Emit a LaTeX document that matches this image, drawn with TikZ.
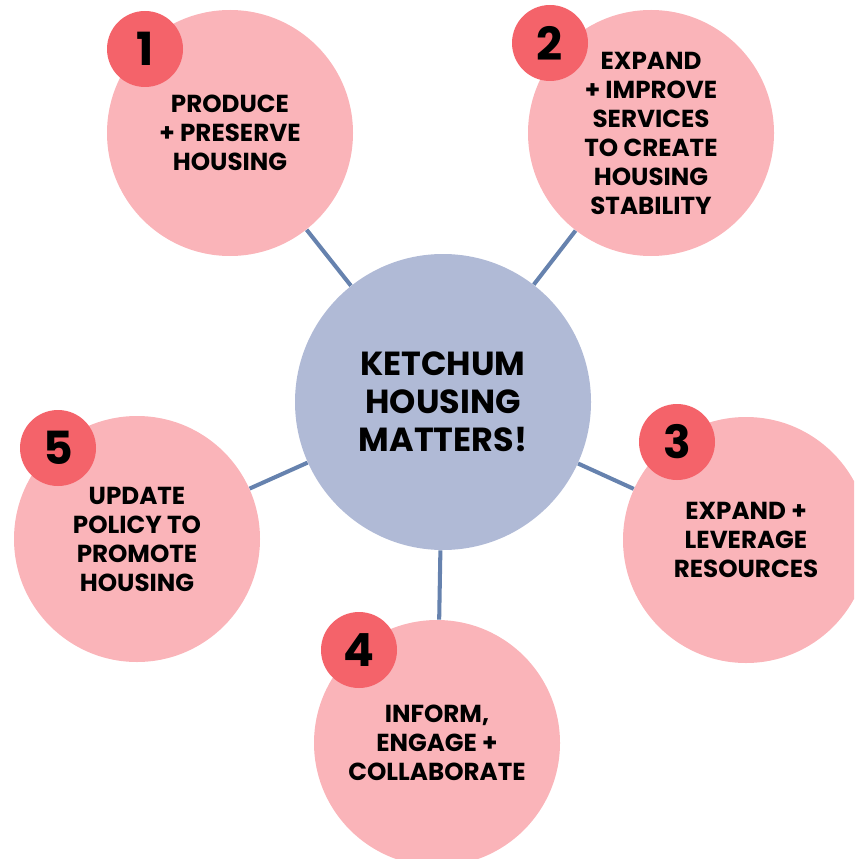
\documentclass[tikz,border=0pt]{standalone}
\usepackage{fontspec}
\setmainfont{Poppins}
\usetikzlibrary{positioning,backgrounds}
\definecolor{goalpink}{HTML}{FAB4B9}
\definecolor{badgered}{HTML}{F4636A}
\definecolor{hubblue}{HTML}{B0BAD6}
\definecolor{linkblue}{HTML}{6682AE}

\begin{document}
\begin{tikzpicture}[
    goal/.style={circle,fill=goalpink,minimum size=4.92cm,inner sep=0pt,align=center,
        font=\bfseries\fontsize{14}{16.5}\selectfont},
    badge/.style={circle,fill=badgered,minimum size=1.52cm,inner sep=0pt,
        font=\fontsize{26}{26}\selectfont},
    hub/.style={circle,fill=hubblue,minimum size=5.92cm,inner sep=0pt,align=center,
        font=\bfseries\fontsize{19}{21.6}\selectfont},
    link/.style={draw=linkblue,line width=2.3pt}]
            \useasboundingbox (0,0) rectangle (17.08,-17.18);
            \clip (0,0) rectangle (17.08,-17.18);

            \node [hub] (Hub) at (8.86,-8.04) {KETCHUM\\HOUSING\\MATTERS!};

            \node [goal] (Produce) at (4.60,-2.66) {PRODUCE\\+ PRESERVE\\HOUSING};
            \node [goal] (Services) at (13.02,-2.66) {EXPAND\\+ IMPROVE\\SERVICES\\TO CREATE\\HOUSING\\STABILITY};
            \node [goal] (Resources) at (14.92,-10.80) {EXPAND +\\LEVERAGE\\RESOURCES};
            \node [goal] (Inform) at (8.74,-14.86) {INFORM,\\ENGAGE +\\COLLABORATE};
            \node [goal] (Policy) at (2.74,-10.78) {UPDATE\\POLICY TO\\PROMOTE\\HOUSING};

            \node [badge] (n1) at (2.90,-0.98) {\bfseries 1};
            \node [badge] (n2) at (11.00,-0.86) {\bfseries 2};
            \node [badge] (n3) at (13.54,-8.84) {\bfseries 3};
            \node [badge] (n4) at (7.18,-13.00) {\bfseries 4};
            \node [badge] (n5) at (1.16,-8.96) {\bfseries 5};

            \begin{scope}[on background layer]
            \draw [link] (Hub) -- (Produce);
            \draw [link] (Hub) -- (Services);
            \draw [link] (Hub) -- (Resources);
            \draw [link] (Hub) -- (Inform);
            \draw [link] (Hub) -- (Policy);
            \end{scope}
        \end{tikzpicture}
\end{document}
